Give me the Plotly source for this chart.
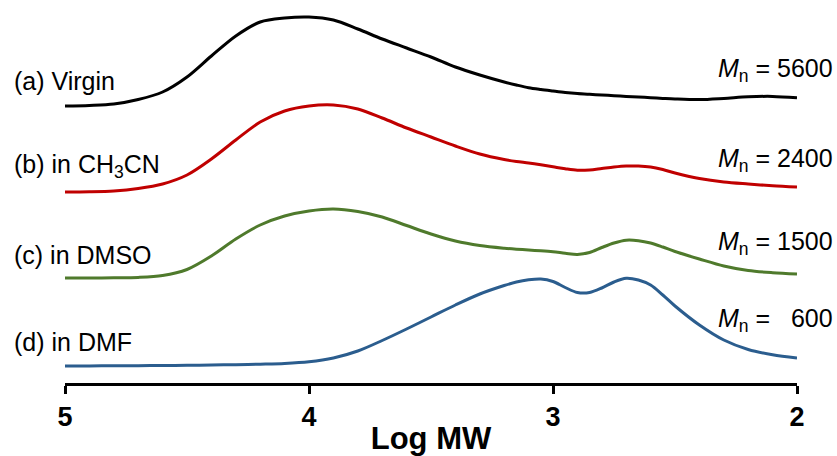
import plotly.graph_objects as go

# Shared log MW grid (finer through the low-MW region where the peaks sit)
logmw = [5.0, 4.9, 4.8, 4.7, 4.6, 4.5, 4.4, 4.3, 4.2, 4.1, 4.0, 3.9, 3.8, 3.7, 3.6, 3.5, 3.4, 3.3,
         3.2, 3.15, 3.1, 3.05, 3.0, 2.95, 2.9, 2.85, 2.8, 2.75, 2.7, 2.65, 2.6, 2.55, 2.5,
         2.4, 2.3, 2.2, 2.1, 2.0]

# Stacked detector response for each sample
resp_virgin = [277, 277.6, 279, 283.5, 291, 306, 327, 347, 361, 365, 366, 363, 354, 344, 335, 326, 316, 308,
               301, 298, 295.3, 293.5, 292, 290.6, 289.5, 288.7, 288, 287.3, 286.6, 286, 285.3, 284.6, 284,
               283.4, 284.6, 286.2, 286.6, 285.2]
resp_ch3cn = [191, 191.2, 192, 194.5, 199, 208, 224, 243, 261, 272, 277, 278, 274, 265, 255, 246, 237, 229,
              223.5, 221.5, 220, 218.2, 216.2, 214.2, 212.7, 213, 214.5, 216, 217, 217, 216, 213.5, 210,
              204.5, 201, 199, 197.3, 196]
resp_dmso = [105, 105, 105.2, 105.6, 107.5, 113.5, 127, 144, 158, 167, 172, 174, 171.5, 166, 157.5, 149, 142, 137.5,
             134.8, 133.8, 133, 132.2, 131.2, 129.8, 128.6, 130.5, 135.5, 140, 142.8, 142.3, 140, 136, 131.5,
             124, 117, 112.5, 110.3, 109]
resp_dmf = [17, 17.1, 17.2, 17.3, 17.5, 17.7, 18, 18.3, 18.8, 19.5, 21.2, 25, 32, 42.5, 54, 66, 78, 89,
            97.5, 101, 103.2, 104, 101.5, 95.5, 90.5, 90.5, 95, 101, 104.8, 103, 98, 88, 77,
            58, 43, 33.5, 28.2, 25]

sample_labels = ["(a) Virgin", "(b) in CH<sub>3</sub>CN", "(c) in DMSO", "(d) in DMF"]
mn_values = ["5600", "2400", "1500", "\u00a0\u00a0600"]
line_colors = ["#000000", "#C00000", "#4F7A2C", "#2B5D8E"]

label_y_left = [302, 217, 128, 41]
label_y_right = [313, 223, 140, 63]

FONT = "Liberation Sans, Arial, sans-serif"

fig = go.Figure()
for ys, col in zip([resp_virgin, resp_ch3cn, resp_dmso, resp_dmf], line_colors):
    fig.add_trace(go.Scatter(
        x=logmw, y=ys, mode="lines",
        line=dict(color=col, width=3, shape="spline", smoothing=0.9),
        showlegend=False, hoverinfo="skip",
    ))

for lab, yl in zip(sample_labels, label_y_left):
    fig.add_annotation(
        x=-0.0724, xref="paper", y=yl, yref="y", text=lab, showarrow=False,
        xanchor="left", yanchor="middle",
        font=dict(family=FONT, size=25, color="black"),
    )

for mn, yr in zip(mn_values, label_y_right):
    fig.add_annotation(
        x=1.0519, xref="paper", y=yr, yref="y",
        text="<i>M</i><sub>n</sub>\u00a0=\u00a0" + mn, showarrow=False,
        xanchor="right", yanchor="middle",
        font=dict(family=FONT, size=25, color="black"),
    )

fig.update_layout(
    width=837, height=456,
    margin=dict(l=65, r=40, t=0, b=73),
    paper_bgcolor="white", plot_bgcolor="white",
    xaxis=dict(
        range=[5, 2], tickvals=[5, 4, 3, 2], ticktext=["5", "4", "3", "2"],
        showline=True, linecolor="black", linewidth=3,
        ticks="outside", ticklen=8, tickwidth=3, tickcolor="black",
        showgrid=False, zeroline=False,
        tickfont=dict(family=FONT, size=27, color="black", weight="bold"),
        title=dict(text="Log MW", standoff=2,
                   font=dict(family=FONT, size=31, color="black", weight="bold")),
    ),
    yaxis=dict(range=[0, 383], visible=False, showgrid=False, zeroline=False),
)

fig.write_html("out.html")
